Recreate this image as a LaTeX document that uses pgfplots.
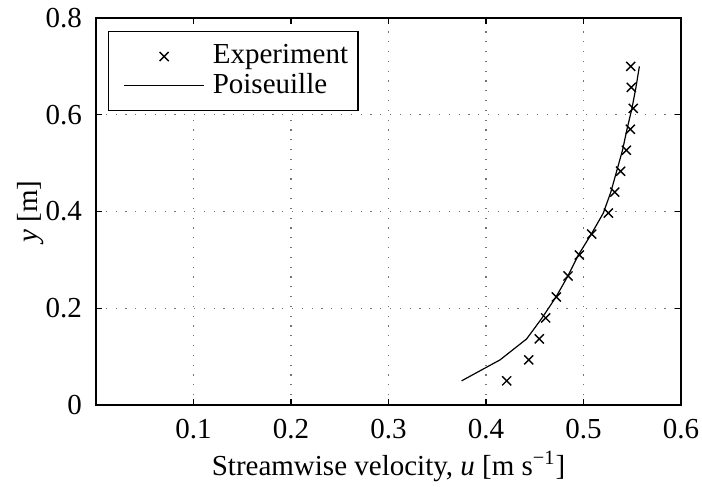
\documentclass[border=0pt]{standalone}
\usepackage{fontspec}
\setmainfont{Liberation Serif}
\usepackage{pgfplots}
\pgfplotsset{compat=1.18}
\pgfplotsset{
  explegend/.style={legend image code/.code={\path (-4.5pt,0pt) (42pt,0pt); \draw[##1] plot coordinates {(20pt,0pt)};}},
  linelegend/.style={legend image code/.code={\path (-4.5pt,0pt) (42pt,0pt); \draw[##1] (0pt,0pt) -- (40pt,0pt);}},
}
\begin{document}
\fontsize{14.5}{17.4}\selectfont
\begin{tikzpicture}
\begin{axis}[
  scale only axis,
  width=292.5pt, height=193.5pt,
  xmin=0, xmax=0.6, ymin=0, ymax=0.8,
  xtick={0.1,0.2,0.3,0.4,0.5,0.6},
  ytick={0,0.2,0.4,0.6,0.8},
  /pgf/number format/assume math mode=true,
  /pgf/number format/.cd, fixed, precision=1, /pgfplots/.cd,
  tick align=inside,
  major tick length=3pt,
  tick style={black, line width=0.6pt},
  axis line style={black, line width=0.9pt},
  grid=major,
  major grid style={black!55, line width=0.6pt, dash pattern=on 0.6pt off 4.3pt},
  xticklabel style={yshift=-2pt},
  yticklabel style={xshift=-2pt},
  xlabel={Streamwise velocity, \textit{u} [m s\textsuperscript{−1}]},
  ylabel={\textit{y} [m]},
  xlabel style={yshift=3.5pt},
  ylabel style={yshift=-9pt},
  legend style={at={(rel axis cs:0.0205,0.966)}, anchor=north west, draw=black, line width=0.6pt,
    cells={anchor=west}, inner xsep=3pt, inner ysep=4.5pt, row sep=-1.5pt},
  legend cell align=left,
]
\addplot[black, only marks, mark=x, mark size=3.2pt, mark options={line width=0.7pt}, explegend]
  coordinates {
  (0.4212,0.0500) (0.4438,0.0933) (0.4547,0.1367) (0.4612,0.1800)
  (0.4721,0.2233) (0.4841,0.2667) (0.4957,0.3100) (0.5084,0.3533)
  (0.5255,0.3967) (0.5320,0.4400) (0.5380,0.4833) (0.5440,0.5267)
  (0.5480,0.5700) (0.5510,0.6133) (0.5490,0.6567) (0.5484,0.7000)
  };
\addlegendentry{Experiment}
\addplot[black, line width=0.6pt, no marks, linelegend]
  coordinates {
  (0.3750,0.0500) (0.4144,0.0933) (0.4417,0.1367) (0.4575,0.1800)
  (0.4718,0.2233) (0.4840,0.2667) (0.4947,0.3100) (0.5080,0.3533)
  (0.5203,0.3967) (0.5280,0.4400) (0.5340,0.4833) (0.5400,0.5267)
  (0.5446,0.5700) (0.5497,0.6133) (0.5538,0.6567) (0.5573,0.7000)
  };
\addlegendentry{Poiseuille}
\coordinate (sw) at (rel axis cs:0,0);
\coordinate (ne) at (rel axis cs:1,1);
\end{axis}
\pgfresetboundingbox
\useasboundingbox ([shift={(-48pt,-40.5pt)}]sw) rectangle ([shift={(10.5pt,9pt)}]ne);
\end{tikzpicture}
\end{document}
